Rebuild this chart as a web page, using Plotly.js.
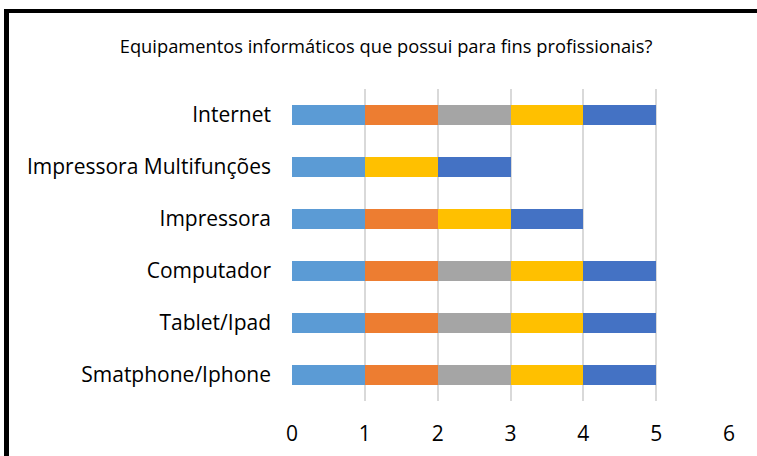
<!DOCTYPE html>
<html>
<head>
<meta charset="utf-8">
<script src="https://cdn.plot.ly/plotly-3.0.1.min.js"></script>
<style>
  html, body { margin: 0; padding: 0; background: #fff; }
  #wrap { position: relative; width: 757px; height: 456px; overflow: hidden; }
  #chart { width: 757px; height: 456px; }
  #frame { position: absolute; left: 4px; top: 9px; width: 800px; height: 500px;
           border-left: 5px solid #000; border-top: 4px solid #000; pointer-events: none; }
</style>
</head>
<body>
<div id="wrap">
  <div id="chart"></div>
  <div id="frame"></div>
</div>
<script>
const categories = ["Smatphone/Iphone", "Tablet/Ipad", "Computador", "Impressora", "Impressora Multifunções", "Internet"];
const series1 = [1, 1, 1, 1, 1, 1];
const series2 = [1, 1, 1, 1, 0, 1];
const series3 = [1, 1, 1, 0, 0, 1];
const series4 = [1, 1, 1, 1, 1, 1];
const series5 = [1, 1, 1, 1, 1, 1];
const xTicks = [0, 1, 2, 3, 4, 5, 6];

const colors = ["#5B9BD5", "#ED7D31", "#A5A5A5", "#FFC000", "#4472C4"];
const allSeries = [series1, series2, series3, series4, series5];

const traces = allSeries.map((vals, i) => ({
  type: "bar",
  orientation: "h",
  y: categories,
  x: vals,
  name: "Série " + (i + 1),
  marker: { color: colors[i], line: { width: 0 } },
  hoverinfo: "skip"
}));

const FONT = "Open Sans, Liberation Sans, sans-serif";

const layout = {
  width: 757,
  height: 456,
  barmode: "stack",
  bargap: 0.61,
  showlegend: false,
  paper_bgcolor: "#ffffff",
  plot_bgcolor: "#ffffff",
  margin: { l: 292, r: 28, t: 89, b: 55 },
  font: { family: FONT, color: "#000" },
  title: {
    text: "Equipamentos informáticos que possui para fins profissionais?",
    font: { size: 18.3, color: "#000", family: FONT },
    x: 0.51, xanchor: "center",
    y: 0.897, yanchor: "middle"
  },
  xaxis: {
    range: [0, 6],
    tickvals: xTicks,
    ticktext: xTicks.map(String),
    showgrid: true,
    gridcolor: "#d9d9d9",
    gridwidth: 2,
    zeroline: false,
    showline: false,
    ticks: "",
    ticklabelstandoff: 18,
    tickfont: { size: 21, color: "#000" },
    fixedrange: true
  },
  yaxis: {
    type: "category",
    categoryorder: "array",
    categoryarray: categories,
    showgrid: false,
    zeroline: false,
    showline: false,
    ticks: "",
    ticklabelstandoff: 20,
    tickfont: { size: 21, color: "#000" },
    fixedrange: true
  }
};

Plotly.newPlot("chart", traces, layout, { displayModeBar: false, staticPlot: true });
</script>
</body>
</html>
